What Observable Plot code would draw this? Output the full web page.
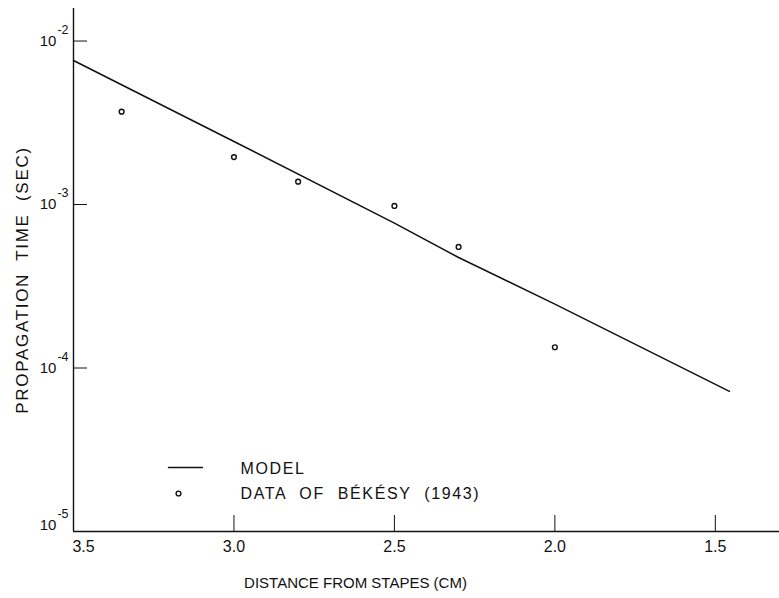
<!DOCTYPE html>
<html><head><meta charset="utf-8">
<script src="https://cdn.jsdelivr.net/npm/d3@7"></script>
<script src="https://cdn.jsdelivr.net/npm/@observablehq/plot@0.6"></script>
<style>
html,body{margin:0;padding:0;background:#fff;}
#chart{width:779px;height:598px;}
</style></head><body><div id="chart"></div>
<script>
// ---- data ----
const modelDistance = [3.5, 3.0, 2.5, 2.3, 2.0, 1.456];
const modelTime = [7.6e-3, 2.43e-3, 7.7e-4, 4.74e-4, 2.46e-4, 7.2e-5];
const bekesyDistance = [3.35, 3.0, 2.8, 2.5, 2.3, 2.0];
const bekesyTime = [3.7e-3, 1.95e-3, 1.38e-3, 9.8e-4, 5.5e-4, 1.34e-4];
const xTicks = [3.5, 3.0, 2.5, 2.0, 1.5];
const xTickLabels = ["3.5", "3.0", "2.5", "2.0", "1.5"];
const yTicks = [1e-5, 1e-4, 1e-3, 1e-2];
const yTickExponents = ["-5", "-4", "-3", "-2"];
const xLabel = "DISTANCE FROM STAPES (CM)";
const yLabel = "PROPAGATION TIME (SEC)";
const legendLabels = ["MODEL", "DATA OF BÉKÉSY (1943)"];

// ---- layout ----
const W = 779, H = 598, mL = 73, mR = 0, mT = 8, mB = 67;
const frameW = W - mL - mR, frameH = H - mT - mB;
const xTickLen = 16, yTickLen = 14;

// ---- build ----
const model = modelDistance.map((x, i) => ({x, y: modelTime[i]}));
const bekesy = bekesyDistance.map((x, i) => ({x, y: bekesyTime[i]}));
const supChars = {"-": "⁻", "0": "⁰", "1": "¹", "2": "²", "3": "³", "4": "⁴", "5": "⁵", "6": "⁶", "7": "⁷", "8": "⁸", "9": "⁹"};
const unSup = Object.fromEntries(Object.entries(supChars).map(([a, b]) => [b, a]));
const tickShape = {draw(ctx, l) { ctx.moveTo(0, 0); ctx.lineTo(0, -l); }};
const ink = "#111";

const plot = Plot.plot({
  width: W, height: H,
  marginLeft: mL, marginRight: mR, marginTop: mT, marginBottom: mB,
  style: {fontFamily: "'Liberation Sans', Arial, sans-serif", fontSize: "16px", color: ink, background: "#fff"},
  x: {domain: [3.5, 1.30]},
  y: {type: "log", domain: [1e-5, Math.pow(10, -1.801)]},
  marks: [
    Plot.axisX(xTicks, {anchor: "bottom", tickSize: 0, tickPadding: 9, label: null, fontSize: 16,
      tickFormat: d => xTickLabels[xTicks.indexOf(d)]}),
    Plot.axisY(yTicks, {anchor: "left", tickSize: 0, tickPadding: 5, label: null, fontSize: 15,
      tickFormat: d => "10" + [...yTickExponents[yTicks.indexOf(d)]].map(c => supChars[c]).join("")}),
    // inward tick marks
    Plot.ruleX(xTicks, {x: d => d, insetTop: frameH - xTickLen, stroke: ink, strokeWidth: 1}),
    Plot.ruleY(yTicks, {y: d => d, insetRight: frameW - yTickLen, stroke: ink, strokeWidth: 1}),
    // axis lines
    Plot.ruleX([xTicks[0]], {stroke: ink, strokeWidth: 1.4}),
    Plot.ruleY([yTicks[0]], {stroke: ink, strokeWidth: 1.4}),
    Plot.line(model, {x: "x", y: "y", stroke: ink, strokeWidth: 1.5}),
    Plot.dot(bekesy, {x: "x", y: "y", r: 2.4, stroke: ink, strokeWidth: 1.4, fill: "white"}),
    // axis titles
    Plot.text([xLabel], {text: d => d, frameAnchor: "bottom", dx: -71, dy: 52, textAnchor: "middle", lineAnchor: "middle", fontSize: 15, fill: ink}),
    Plot.text([yLabel], {text: d => d, frameAnchor: "left", rotate: -90, dx: -51, dy: 10, textAnchor: "middle", lineAnchor: "middle", fontSize: 17, fill: ink}),
    // legend
    Plot.vector([legendLabels[0]], {frameAnchor: "bottom-left", dx: 95, dy: -64, length: 34, rotate: 90, anchor: "start", shape: tickShape, stroke: ink, strokeWidth: 1.5}),
    Plot.dot([legendLabels[1]], {frameAnchor: "bottom-left", dx: 105, dy: -38, r: 2.4, stroke: ink, strokeWidth: 1.4, fill: "white"}),
    Plot.text([legendLabels[0]], {text: d => d, frameAnchor: "bottom-left", dx: 167, dy: -63, textAnchor: "start", lineAnchor: "middle", fontSize: 16, fill: ink}),
    Plot.text([legendLabels[1]], {text: d => d, frameAnchor: "bottom-left", dx: 167, dy: -38, textAnchor: "start", lineAnchor: "middle", fontSize: 16, fill: ink})
  ]
});

plot.querySelectorAll("text").forEach(t => t.setAttribute("fill", ink));
// superscript exponents on y tick labels
const ns = "http://www.w3.org/2000/svg";
plot.querySelectorAll('g[aria-label="y-axis tick label"] text').forEach((t, i) => {
  const s = t.textContent;
  const base = s.slice(0, 2);
  const exp = [...s.slice(2)].map(c => unSup[c] || c).join("");
  t.textContent = "";
  const a = document.createElementNS(ns, "tspan"); a.textContent = base;
  if (s.endsWith(supChars["5"])) a.setAttribute("dy", "-6"); // bottom label sits above the x axis
  const b = document.createElementNS(ns, "tspan"); b.textContent = exp;
  b.setAttribute("dy", "-12"); b.setAttribute("font-size", "12.5"); b.setAttribute("dx", "1");
  t.append(a, b);
});
// first x tick label sits just right of the y axis
const xl = plot.querySelectorAll('g[aria-label="x-axis tick label"] text');
if (xl.length) xl[0].setAttribute("dx", "10");
// spaced lettering for titles and legend
plot.querySelectorAll("text").forEach(t => {
  const s = t.textContent;
  if (s === yLabel) { t.style.letterSpacing = "1.7px"; t.style.wordSpacing = "6px"; }
  else if (s === xLabel) { t.style.letterSpacing = "0px"; }
  else if (legendLabels.includes(s)) { t.style.letterSpacing = "1.6px"; t.style.wordSpacing = "7px"; }
});
document.getElementById("chart").append(plot);
</script>
</body></html>
